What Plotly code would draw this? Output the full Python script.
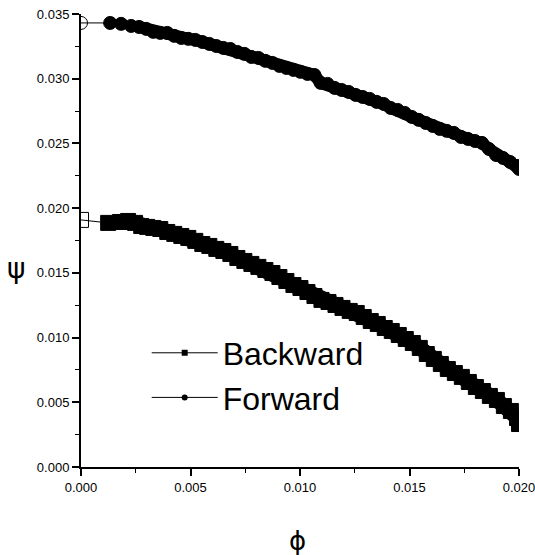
import plotly.graph_objects as go

# ---- data ----
phi_forward = [0.0, 0.00133, 0.00183, 0.00229, 0.00265, 0.00298, 0.00330, 0.00362, 0.00394, 0.00426,
               0.00458, 0.00490, 0.00522, 0.00554, 0.00586, 0.00618, 0.00650, 0.00682, 0.00714,
               0.00746, 0.00778, 0.00810, 0.00842, 0.00874, 0.00906, 0.00938, 0.00970, 0.01002,
               0.01034, 0.01066, 0.01094, 0.01126, 0.01158, 0.01190, 0.01222, 0.01254, 0.01286,
               0.01318, 0.01350, 0.01382, 0.01414, 0.01446, 0.01478, 0.01510, 0.01542, 0.01574,
               0.01606, 0.01638, 0.01670, 0.01703, 0.01735, 0.01767, 0.01799, 0.01831, 0.01863,
               0.01895, 0.01927, 0.01959, 0.01991, 0.02000]
psi_forward = [0.03431, 0.03431, 0.03424, 0.03408, 0.03400, 0.03385, 0.03362, 0.03354, 0.03354, 0.03331,
               0.03315, 0.03308, 0.03300, 0.03284, 0.03269, 0.03253, 0.03238, 0.03230, 0.03207,
               0.03192, 0.03168, 0.03161, 0.03138, 0.03122, 0.03099, 0.03083, 0.03068, 0.03053,
               0.03037, 0.03029, 0.02968, 0.02960, 0.02929, 0.02913, 0.02898, 0.02875, 0.02859,
               0.02844, 0.02821, 0.02805, 0.02774, 0.02759, 0.02736, 0.02705, 0.02682, 0.02658,
               0.02635, 0.02612, 0.02597, 0.02581, 0.02550, 0.02535, 0.02519, 0.02504, 0.02457,
               0.02411, 0.02388, 0.02357, 0.02326, 0.02303]

phi_backward = [0.0, 0.00124, 0.00178, 0.00215, 0.00247, 0.00275, 0.00302, 0.00330, 0.00362, 0.00394,
                0.00426, 0.00458, 0.00490, 0.00522, 0.00554, 0.00586, 0.00618, 0.00650, 0.00682,
                0.00714, 0.00746, 0.00778, 0.00810, 0.00842, 0.00874, 0.00906, 0.00938, 0.00970,
                0.01002, 0.01034, 0.01066, 0.01098, 0.01130, 0.01162, 0.01194, 0.01227, 0.01259,
                0.01291, 0.01323, 0.01355, 0.01387, 0.01419, 0.01451, 0.01483, 0.01515, 0.01547,
                0.01579, 0.01611, 0.01643, 0.01675, 0.01707, 0.01739, 0.01771, 0.01803, 0.01835,
                0.01867, 0.01899, 0.01931, 0.01963, 0.01991, 0.02000]
psi_backward = [0.01909, 0.01886, 0.01893, 0.01901, 0.01886, 0.01862, 0.01855, 0.01847, 0.01839, 0.01816,
                0.01801, 0.01785, 0.01770, 0.01747, 0.01723, 0.01708, 0.01685, 0.01669, 0.01646,
                0.01615, 0.01592, 0.01569, 0.01546, 0.01522, 0.01499, 0.01468, 0.01437, 0.01406,
                0.01383, 0.01352, 0.01321, 0.01291, 0.01275, 0.01252, 0.01229, 0.01206, 0.01190,
                0.01159, 0.01128, 0.01105, 0.01074, 0.01051, 0.01020, 0.00989, 0.00958, 0.00920,
                0.00873, 0.00835, 0.00796, 0.00757, 0.00726, 0.00696, 0.00657, 0.00618, 0.00587,
                0.00549, 0.00518, 0.00471, 0.00433, 0.00379, 0.00332]

series_names = ["Backward", "Forward"]
x_ticks = [0.000, 0.005, 0.010, 0.015, 0.020]
x_ticklabels = ["0.000", "0.005", "0.010", "0.015", "0.020"]
y_ticks = [0.000, 0.005, 0.010, 0.015, 0.020, 0.025, 0.030, 0.035]
y_ticklabels = ["0.000", "0.005", "0.010", "0.015", "0.020", "0.025", "0.030", "0.035"]

NARROW = "Liberation Sans Narrow, Arial Narrow, Liberation Sans, sans-serif"

fig = go.Figure()

# thick bands (dense overlapping markers in the original)
fig.add_trace(go.Scatter(x=phi_backward[4:], y=psi_backward[4:], mode="lines",
                         line=dict(color="black", width=15), showlegend=False, hoverinfo="skip"))
fig.add_trace(go.Scatter(x=phi_forward[4:], y=psi_forward[4:], mode="lines",
                         line=dict(color="black", width=12), showlegend=False, hoverinfo="skip"))

# marker series
b_sym = ["square-open"] + ["square"] * (len(phi_backward) - 1)
f_sym = ["circle-open"] + ["circle"] * (len(phi_forward) - 1)
fig.add_trace(go.Scatter(x=phi_backward, y=psi_backward, mode="lines+markers",
                         line=dict(color="black", width=1),
                         marker=dict(symbol=b_sym, size=15, color="black",
                                     line=dict(color="black", width=1)),
                         showlegend=False))
fig.add_trace(go.Scatter(x=phi_forward, y=psi_forward, mode="lines+markers",
                         line=dict(color="black", width=1),
                         marker=dict(symbol=f_sym, size=13, color="black",
                                     line=dict(color="black", width=1)),
                         showlegend=False))

# legend entries
fig.add_trace(go.Scatter(x=[None], y=[None], mode="lines+markers", name=series_names[0],
                         line=dict(color="black", width=1),
                         marker=dict(symbol="square", size=6, color="black")))
fig.add_trace(go.Scatter(x=[None], y=[None], mode="lines+markers", name=series_names[1],
                         line=dict(color="black", width=1),
                         marker=dict(symbol="circle", size=6, color="black")))

axis_common = dict(showgrid=False, zeroline=False, showline=True, linecolor="black", linewidth=2,
                   ticks="outside", ticklen=7, tickwidth=1.5, tickcolor="black",
                   ticklabeloverflow="allow", automargin=False,
                   tickfont=dict(family=NARROW, size=13, color="black"), mirror=False)

fig.update_xaxes(range=[0, 0.020], tickvals=x_ticks, ticktext=x_ticklabels,
                 minor=dict(ticks="outside", ticklen=4, tickwidth=1.2, tickcolor="black", dtick=0.0025),
                 **axis_common)
fig.update_yaxes(range=[0, 0.035], tickvals=y_ticks, ticktext=y_ticklabels,
                 minor=dict(ticks="outside", ticklen=4, tickwidth=1.2, tickcolor="black", dtick=0.0025),
                 **axis_common)

fig.add_annotation(text="ψ", xref="paper", yref="paper", x=-0.148, y=0.439, showarrow=False,
                   xanchor="center", yanchor="middle",
                   font=dict(family="DejaVu Sans", size=28, color="black"))
fig.add_annotation(text="ϕ", xref="paper", yref="paper", x=0.495, y=-0.164, showarrow=False,
                   xanchor="center", yanchor="middle",
                   font=dict(family="DejaVu Sans", size=26, color="black"))

fig.update_layout(
    width=535, height=555,
    margin=dict(l=81, r=16, t=14, b=88),
    paper_bgcolor="white", plot_bgcolor="white",
    legend=dict(x=0.15, y=0.202, xanchor="left", yanchor="middle",
                bgcolor="rgba(0,0,0,0)", itemwidth=66, tracegroupgap=0,
                font=dict(family=NARROW, size=32, color="black")),
)

fig.write_html("out.html")
